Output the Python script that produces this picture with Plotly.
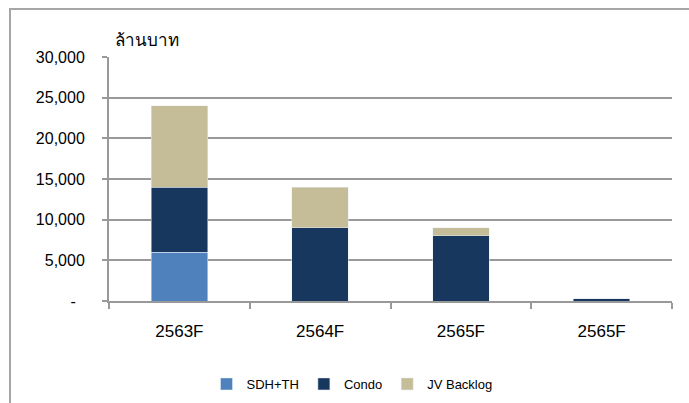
import plotly.graph_objects as go

# Backlog by segment (million baht)
years = ["2563F", "2564F", "2565F", "2565F"]
sdh_th = [6000, 0, 0, 0]
condo = [8000, 9000, 8000, 300]
jv_backlog = [10000, 5000, 1000, 0]

y_ticks = [0, 5000, 10000, 15000, 20000, 25000, 30000]
y_tick_text = ["-\u00a0\u00a0", "5,000", "10,000", "15,000", "20,000", "25,000", "30,000"]

W, H = 689, 403
ML, MR, MT, MB = 109, 17, 57, 102
FONT = "Arial, Liberation Sans, sans-serif"
GRID = "#999999"

xpos = list(range(len(years)))

fig = go.Figure()
fig.add_trace(go.Bar(name="SDH+TH", x=xpos, y=sdh_th, marker_color="#4F81BD"))
fig.add_trace(go.Bar(name="Condo", x=xpos, y=condo, marker_color="#17375E"))
fig.add_trace(go.Bar(name="JV Backlog", x=xpos, y=jv_backlog, marker_color="#C4BD97"))

pw = W - ML - MR
ph = H - MT - MB

fig.update_layout(
    width=W, height=H,
    margin=dict(l=ML, r=MR, t=MT, b=MB, autoexpand=False),
    barmode="stack",
    bargap=0.6,
    paper_bgcolor="white",
    plot_bgcolor="white",
    font=dict(family=FONT, color="#000000"),
    showlegend=True,
    legend=dict(
        orientation="h", x=(352 - ML) / pw, xanchor="center",
        y=-(384 - (H - MB)) / ph, yanchor="middle",
        font=dict(size=13), itemwidth=30, traceorder="normal",
    ),
    xaxis=dict(
        range=[-0.5, len(years) - 0.5],
        tickmode="array", tickvals=xpos, ticktext=years,
        ticks="", showgrid=False, zeroline=False,
        showline=True, linecolor=GRID, linewidth=2,
        tickfont=dict(size=17), ticklabelstandoff=14,
        minor=dict(ticks="outside", tick0=-0.5, dtick=1, ticklen=6,
                   tickcolor=GRID, tickwidth=1.5, showgrid=False),
    ),
    yaxis=dict(
        range=[0, 30000],
        tickmode="array", tickvals=y_ticks, ticktext=y_tick_text,
        ticks="outside", ticklen=5, tickcolor=GRID, tickwidth=1.5,
        showgrid=True, gridcolor=GRID, gridwidth=1.5,
        zeroline=False, showline=True, linecolor=GRID, linewidth=2,
        tickfont=dict(size=16), ticklabelstandoff=14,
    ),
)

# unit label above the value axis
fig.add_annotation(
    text="ล้านบาท", xref="paper", yref="paper",
    x=(113 - ML) / pw, y=1 + (MT - 41) / ph,
    xanchor="left", yanchor="middle", showarrow=False,
    font=dict(size=17, family=FONT, color="#000000"),
)

# outer chart frame
fig.add_shape(
    type="rect", xref="paper", yref="paper",
    x0=(10 - ML) / pw, x1=(W + 20 - ML) / pw,
    y0=-(H + 20 - (H - MB)) / ph, y1=1 + (MT - 9) / ph,
    line=dict(color="#a6a6a6", width=2), fillcolor="rgba(0,0,0,0)",
    layer="below",
)

fig.write_html("out.html")
